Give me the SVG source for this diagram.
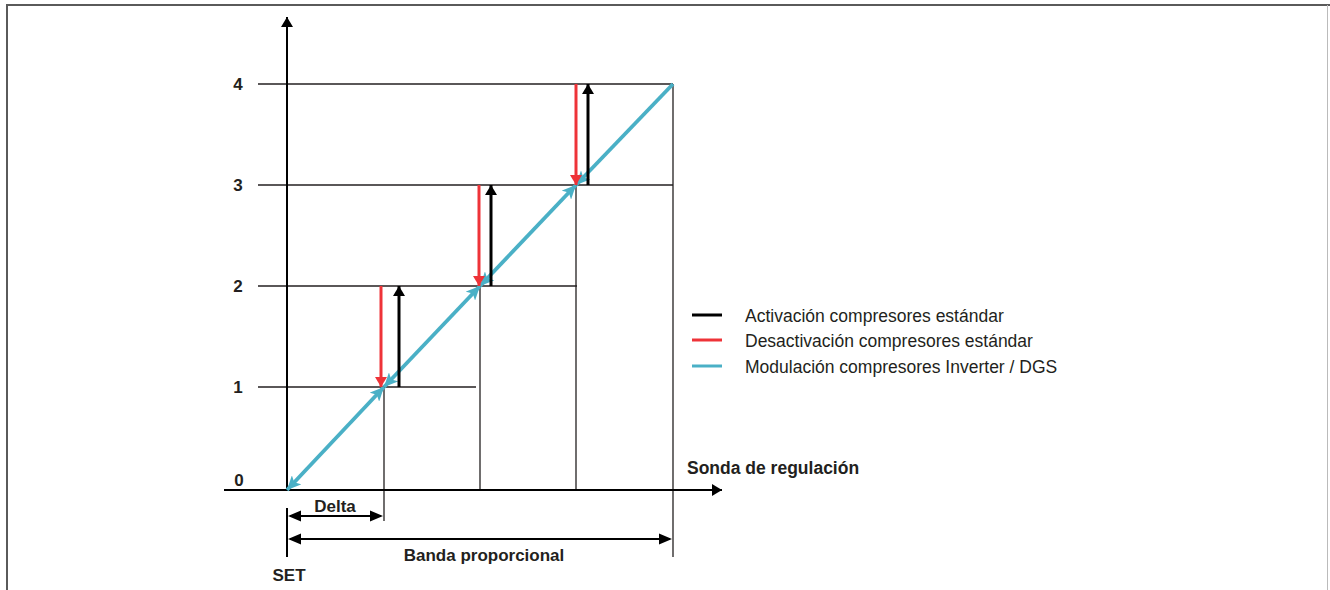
<svg xmlns="http://www.w3.org/2000/svg" width="1330" height="590" viewBox="0 0 1330 590">
<defs>
<style>
.t{font-family:"Liberation Sans",Arial,sans-serif;fill:#231F20}
.b{font-weight:bold;font-size:17px}
.n{font-size:17.5px}
.g{stroke:#231F20;stroke-width:1.3;fill:none}
.ax{stroke:#000;stroke-width:2;fill:none}
.blue{stroke:#4AB0C6;stroke-width:3.8;fill:none}
.red{stroke:#EE3338;stroke-width:3;fill:none}
.blk{stroke:#000;stroke-width:3;fill:none}
</style>
<marker id="ahr" markerWidth="10" markerHeight="12" refX="10" refY="6" orient="auto" markerUnits="userSpaceOnUse"><path d="M0,0 L10,6 L0,12 z" fill="#EE3338"/></marker>
<marker id="ahk" markerWidth="10" markerHeight="12" refX="10" refY="6" orient="auto" markerUnits="userSpaceOnUse"><path d="M0,0 L10,6 L0,12 z" fill="#000"/></marker>
<marker id="abe" markerWidth="14" markerHeight="13" refX="14" refY="6.5" orient="auto" markerUnits="userSpaceOnUse"><path d="M0,0 L14,6.5 L0,13 L3.5,6.5 z" fill="#4AB0C6"/></marker>
<marker id="abs" markerWidth="14" markerHeight="13" refX="0" refY="6.5" orient="auto" markerUnits="userSpaceOnUse"><path d="M14,0 L0,6.5 L14,13 L10.5,6.5 z" fill="#4AB0C6"/></marker>
</defs>
<g id="frame">
<line x1="6" y1="5" x2="1330" y2="5" stroke="#5a5a5a" stroke-width="2"/>
<line x1="7" y1="4" x2="7" y2="590" stroke="#5a5a5a" stroke-width="2"/>
<line x1="1327.5" y1="5" x2="1327.5" y2="590" stroke="#bbb" stroke-width="1"/>
</g>
<g id="grid">
<line class="g" x1="258" y1="84" x2="673" y2="84"/>
<line class="g" x1="258" y1="185" x2="673" y2="185"/>
<line class="g" x1="258" y1="286" x2="577" y2="286"/>
<line class="g" x1="258" y1="387" x2="476" y2="387"/>
<line class="g" x1="384" y1="387" x2="384" y2="521"/>
<line class="g" x1="480" y1="286" x2="480" y2="490"/>
<line class="g" x1="576" y1="185" x2="576" y2="490"/>
<line class="g" x1="673" y1="84" x2="673" y2="557"/>
</g>
<g id="axes">
<line class="ax" x1="287" y1="490" x2="287" y2="17" marker-end="url(#ahk)"/>
<line class="ax" x1="287" y1="508" x2="287" y2="557"/>
<line class="ax" x1="224" y1="490" x2="722" y2="490" marker-end="url(#ahk)"/>
</g>
<g id="connectors">
<line class="blue" x1="287" y1="490" x2="384" y2="387" marker-start="url(#abs)" marker-end="url(#abe)"/>
<line class="blue" x1="384" y1="387" x2="480" y2="286" marker-start="url(#abs)" marker-end="url(#abe)"/>
<line class="blue" x1="480" y1="286" x2="576" y2="185" marker-start="url(#abs)" marker-end="url(#abe)"/>
<line class="blue" x1="576" y1="185" x2="673" y2="84" marker-start="url(#abs)"/>
<line class="red" x1="381" y1="286" x2="381" y2="387" marker-end="url(#ahr)"/>
<line class="blk" x1="399" y1="387" x2="399" y2="286" marker-end="url(#ahk)"/>
<line class="red" x1="479" y1="185" x2="479" y2="286" marker-end="url(#ahr)"/>
<line class="blk" x1="491" y1="286" x2="491" y2="185" marker-end="url(#ahk)"/>
<line class="red" x1="576" y1="84" x2="576" y2="185" marker-end="url(#ahr)"/>
<line class="blk" x1="588" y1="185" x2="588" y2="84" marker-end="url(#ahk)"/>
<line stroke="#000" stroke-width="2" x1="290" y1="516" x2="381" y2="516"/>
<path d="M288,516 L301,510.5 L301,521.5 z M383,516 L370,510.5 L370,521.5 z" fill="#000"/>
<line stroke="#000" stroke-width="2" x1="290" y1="539" x2="670" y2="539"/>
<path d="M288,539 L301,533.5 L301,544.5 z M672,539 L659,533.5 L659,544.5 z" fill="#000"/>
</g>
<g id="labels">
<text class="t b" x="238" y="90" text-anchor="middle">4</text>
<text class="t b" x="238" y="191" text-anchor="middle">3</text>
<text class="t b" x="238" y="292" text-anchor="middle">2</text>
<text class="t b" x="238" y="393" text-anchor="middle">1</text>
<text class="t b" x="239" y="486" text-anchor="middle">0</text>
<text class="t b" x="335" y="512" text-anchor="middle">Delta</text>
<text class="t b" x="484" y="561" text-anchor="middle">Banda proporcional</text>
<text class="t b" x="289" y="581" text-anchor="middle">SET</text>
<text class="t b" x="687" y="474" style="font-size:17.5px">Sonda de regulación</text>
</g>
<g id="legend">
<line x1="692" y1="315" x2="722" y2="315" stroke="#000" stroke-width="3"/>
<line x1="692" y1="340" x2="722" y2="340" stroke="#EE3338" stroke-width="3"/>
<line x1="692" y1="366" x2="722" y2="366" stroke="#4AB0C6" stroke-width="3"/>
<text class="t n" x="745" y="322">Activación compresores estándar</text>
<text class="t n" x="745" y="347">Desactivación compresores estándar</text>
<text class="t n" x="745" y="373">Modulación compresores Inverter / DGS</text>
</g>
</svg>
